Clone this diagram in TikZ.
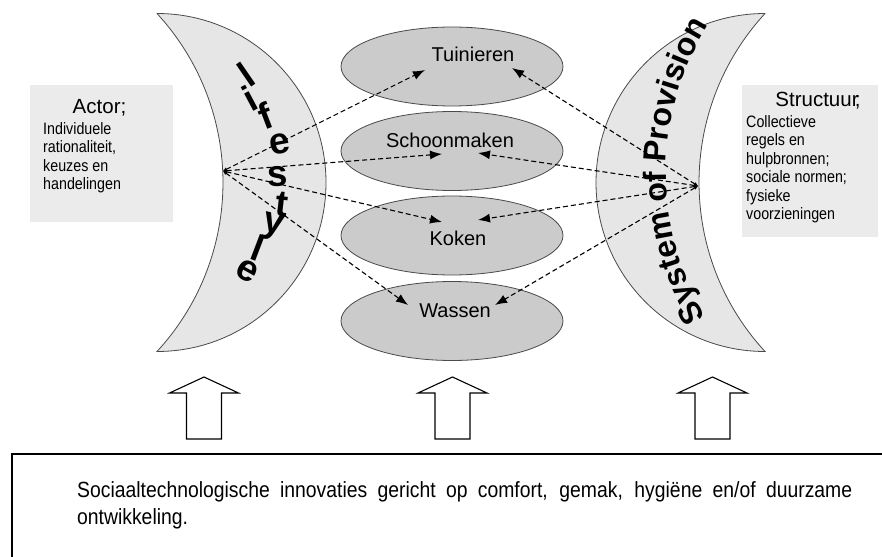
\documentclass[tikz,border=0pt]{standalone}
\usepackage{fontspec}
\setmainfont{Liberation Sans}
\newfontfamily\narrowfont[FakeStretch=0.865]{Liberation Sans}
\newfontfamily\widenarrowfont[FakeStretch=0.88]{Liberation Sans}
\usetikzlibrary{arrows.meta,decorations.text,shapes.geometric}
\definecolor{moonfill}{HTML}{E6E6E6}
\definecolor{ellfill}{HTML}{CBCBCB}
\definecolor{boxfill}{HTML}{EBEBEB}
\definecolor{edgegray}{HTML}{4A4A4A}
\begin{document}
\begin{tikzpicture}[x=1pt,y=-1pt,
  moon/.style={fill=moonfill,draw=edgegray,line width=0.8pt},
  activity/.style={ellipse,fill=ellfill,draw=edgegray,line width=0.8pt,minimum width=222pt,minimum height=79pt,inner sep=0pt},
  actlabel/.style={anchor=base,inner sep=0pt,font=\fontsize{20}{24}\selectfont},
  infobox/.style={rectangle,fill=boxfill,draw=none,inner sep=0pt},
  boxtitle/.style={anchor=base,inner sep=0pt,font=\fontsize{20.5}{24}\selectfont},
  boxtext/.style={anchor=north west,align=left,inner sep=0pt,font=\narrowfont\fontsize{16.5}{18.4}\selectfont},
  dasharrow/.style={draw=black,line width=1.1pt,dash pattern=on 5pt off 3pt,{Latex[length=4pt,width=4pt]}-{Latex[length=12pt,width=9pt]}},
  uparrow/.style={draw=black,line width=1.1pt,fill=white,line join=miter},
  lifeletter/.style={inner sep=0pt,font=\bfseries\fontsize{37}{37}\selectfont}
]
\useasboundingbox (0,0) rectangle (882,556);
\clip (0,0) rectangle (882,556);
\fill[white] (0,0) rectangle (882,556);

% crescents
\path[moon] (157,13.5) arc[start angle=-90,end angle=90,radius=169]
  arc[start angle=42.66,end angle=-42.66,radius=249.4] -- cycle;
\path[moon] (765,13.5) arc[start angle=-90,end angle=-270,radius=169]
  arc[start angle=137.34,end angle=222.66,radius=249.4] -- cycle;

% info boxes
\node[infobox,minimum width=143pt,minimum height=137pt] (actor) at (101.5,153.5) {};
\node[infobox,minimum width=136pt,minimum height=152pt] (struct) at (810,161) {};
\node[boxtitle] (actortitle) at (99.5,113.5) {Actor;};
\node[boxtext] (actortext) at (43,122.3) {Individuele\\rationaliteit,\\keuzes en\\handelingen};
\node[boxtitle] (structtitle) at (818,107) {Structuur\kern-0.18em;};
\node[boxtext] (structtext) at (746,115.3) {Collectieve\\regels en\\hulpbronnen;\\sociale normen;\\fysieke\\voorzieningen};

% lifestyle
\foreach \ch/\px/\py/\rot [count=\k] in {l/246/75/34.5, i/250/98/28, f/265/116/20.8, e/280/144/10.5, s/278/177/1, t/282/204/-6.6, y/273/227/-13.4, l/258/248/-20.9, e/247/271/-29.3}
  \node[lifeletter,rotate=\rot] (life\k) at (\px,\py) {\ch};

% System of Provision
\path[decorate,decoration={text along path,text align=center,text={|\bfseries\fontsize{32}{32}\selectfont|System of Provision}}]
  (716.6,333.6) arc[start angle=145,end angle=216,radius=280];

% activities
\node[activity] (tuin) at (452,66.5) {};
\node[activity] (schoon) at (452,151) {};
\node[activity] (koken) at (452,235.5) {};
\node[activity] (wassen) at (452,321) {};
\node[actlabel] (tuinlab) at (473,61.5) {Tuinieren};
\node[actlabel] (schoonlab) at (450,148) {Schoonmaken};
\node[actlabel] (kokenlab) at (458,245) {Koken};
\node[actlabel] (wassenlab) at (455,317) {Wassen};

% connectors
\coordinate (ls) at (223,171);
\coordinate (rs) at (698,186);
\coordinate (l1) at (425,70);
\coordinate (l2) at (442,154);
\coordinate (l3) at (442,222);
\coordinate (l4) at (408,305);
\coordinate (r1) at (512,68);
\coordinate (r2) at (478,153);
\coordinate (r3) at (478,220);
\coordinate (r4) at (495,305);
\foreach \t in {l1,l2,l3,l4} \draw[dasharrow] (ls) -- (\t);
\foreach \t in {r1,r2,r3,r4} \draw[dasharrow] (rs) -- (\t);

% up arrows
\foreach \c in {204,452.5,712.5}
  \draw[uparrow] (\c,377) -- (\c+34.5,393) -- (\c+17.5,393) -- (\c+17.5,439)
    -- (\c-17.5,439) -- (\c-17.5,393) -- (\c-34.5,393) -- cycle;

% bottom box
\draw[line width=2.6pt] (12,454) rectangle (900,600);
\node[anchor=north west,inner sep=0pt,text width=775pt,align=justify,font=\widenarrowfont\fontsize{22}{27}\selectfont] (innov) at (77,481)
  {\tolerance=10000 Sociaaltechnologische innovaties gericht op comfort, gemak, hygiëne en/of duurzame\linebreak ontwikkeling.};
\end{tikzpicture}
\end{document}
